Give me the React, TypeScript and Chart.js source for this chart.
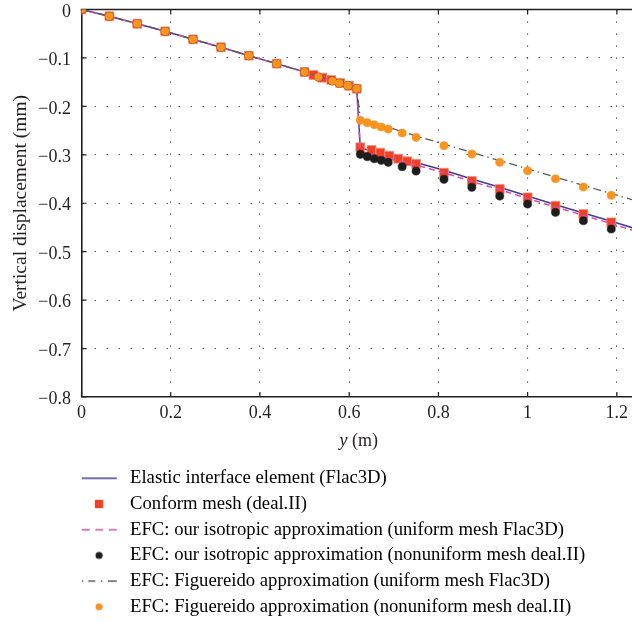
import React, { useEffect, useRef } from 'react';
import { Chart, registerables } from 'chart.js';

Chart.register(...registerables);

// ---------- data ----------
const xTicks = [0, 0.2, 0.4, 0.6, 0.8, 1.0, 1.2];
const xTickLabels = ['0', '0.2', '0.4', '0.6', '0.8', '1', '1.2'];
const yTicks = [0, -0.1, -0.2, -0.3, -0.4, -0.5, -0.6, -0.7, -0.8];
const yTickLabels = ['0', '\u22120.1', '\u22120.2', '\u22120.3', '\u22120.4', '\u22120.5', '\u22120.6', '\u22120.7', '\u22120.8'];

const seriesLabels = [
  'Elastic interface element (Flac3D)',
  'Conform mesh (deal.II)',
  'EFC: our isotropic approximation (uniform mesh Flac3D)',
  'EFC: our isotropic approximation (nonuniform mesh deal.II)',
  'EFC: Figuereido approximation (uniform mesh Flac3D)',
  'EFC: Figuereido approximation (nonuniform mesh deal.II)',
];

// uniform-mesh (Flac3D) line series
const uniformX = [0, 0.0625, 0.125, 0.1875, 0.25, 0.3125, 0.375, 0.4375, 0.5, 0.54, 0.58, 0.617, 0.625, 0.6875, 0.75, 0.8125, 0.875, 0.9375, 1.0, 1.0625, 1.125, 1.1875, 1.25];
const elasticY = [0, -0.0141, -0.0293, -0.0451, -0.0616, -0.0781, -0.0953, -0.1118, -0.129, -0.1408, -0.1518, -0.1635, -0.286, -0.301, -0.316, -0.332, -0.35, -0.367, -0.385, -0.403, -0.42, -0.437, -0.455];
const isoUniformY = [0, -0.0141, -0.0293, -0.0451, -0.0616, -0.0781, -0.0953, -0.1118, -0.129, -0.1408, -0.1518, -0.1635, -0.293, -0.307, -0.321, -0.337, -0.355, -0.372, -0.39, -0.408, -0.425, -0.442, -0.46];
const figUniformY = [0, -0.0141, -0.0293, -0.0451, -0.0616, -0.0781, -0.0953, -0.1118, -0.129, -0.1408, -0.1518, -0.1635, -0.226, -0.243, -0.261, -0.278, -0.295, -0.312, -0.329, -0.346, -0.363, -0.38, -0.397];

// conform mesh (deal.II)
const conformX = [0, 0.0625, 0.125, 0.1875, 0.25, 0.3125, 0.375, 0.4375, 0.5, 0.52, 0.54, 0.56, 0.58, 0.6, 0.617, 0.625, 0.65, 0.67, 0.69, 0.71, 0.73, 0.75, 0.8125, 0.875, 0.9375, 1.0, 1.0625, 1.125, 1.1875];
const conformY = [0, -0.0141, -0.0293, -0.0451, -0.0616, -0.0781, -0.0953, -0.1118, -0.129, -0.1352, -0.1408, -0.1456, -0.1518, -0.1573, -0.1635, -0.2845, -0.2901, -0.2957, -0.3019, -0.3081, -0.3134, -0.3184, -0.337, -0.3541, -0.3707, -0.3878, -0.4051, -0.4223, -0.4394];

// nonuniform mesh (deal.II) point series
const nonuniformX = [0, 0.0625, 0.125, 0.1875, 0.25, 0.3125, 0.375, 0.4375, 0.5, 0.531, 0.5625, 0.578, 0.597, 0.617, 0.625, 0.6406, 0.6563, 0.6719, 0.6875, 0.7188, 0.75, 0.8125, 0.875, 0.9375, 1.0, 1.0625, 1.125, 1.1875];
const isoNonuniformY = [0, -0.0141, -0.0293, -0.0451, -0.0616, -0.0781, -0.0953, -0.1118, -0.129, -0.1394, -0.1476, -0.1524, -0.1573, -0.1635, -0.299, -0.3039, -0.3081, -0.3114, -0.3155, -0.3246, -0.3335, -0.3506, -0.3671, -0.3851, -0.4016, -0.4188, -0.4361, -0.4532];
const figNonuniformY = [0, -0.0141, -0.0293, -0.0451, -0.0616, -0.0781, -0.0953, -0.1118, -0.129, -0.1394, -0.1476, -0.1524, -0.1573, -0.1635, -0.2288, -0.2337, -0.2379, -0.2426, -0.2468, -0.255, -0.2639, -0.2812, -0.2984, -0.3155, -0.3329, -0.3494, -0.3665, -0.3836];

// ---------- styles ----------
const FONT = '"Liberation Serif", "Times New Roman", serif';
const TEXT = '#231f20';
const C_ELASTIC = '#403c98';
const C_CONFORM = '#ee4127';
const C_ISO = '#d94ea5';
const C_BLACK = '#1d1d1b';
const C_FIG = '#5a5a5a';
const C_ORANGE = '#f7931e';

const pts = (xs: number[], ys: number[]) => xs.map((x, i) => ({ x, y: ys[i] }));

function makeSymbol(draw: (c: CanvasRenderingContext2D) => void) {
  const cv = document.createElement('canvas');
  cv.width = 114;
  cv.height = 14;
  const c = cv.getContext('2d')!;
  draw(c);
  return cv;
}

function legendSymbols() {
  const L0 = 74.9;
  const L1 = 109.9;
  const cy = 7;
  const mx = 92.2;
  return [
    makeSymbol((c) => {
      c.strokeStyle = C_ELASTIC; c.lineWidth = 1.5;
      c.beginPath(); c.moveTo(L0, cy); c.lineTo(L1, cy); c.stroke();
    }),
    makeSymbol((c) => {
      c.fillStyle = C_CONFORM;
      c.fillRect(mx - 4.2, cy - 4.2, 8.4, 8.4);
    }),
    makeSymbol((c) => {
      c.strokeStyle = C_ISO; c.lineWidth = 1.5;
      c.beginPath();
      [[L0, L0 + 8], [L0 + 13.5, L0 + 21.5], [L0 + 27, L1]].forEach(([a, b]) => { c.moveTo(a, cy); c.lineTo(b, cy); });
      c.stroke();
    }),
    makeSymbol((c) => {
      c.fillStyle = C_BLACK;
      c.beginPath(); c.arc(mx, cy, 3.6, 0, Math.PI * 2); c.fill();
    }),
    makeSymbol((c) => {
      c.strokeStyle = C_FIG; c.lineWidth = 1.3;
      c.beginPath();
      [[L0, L0 + 1.5], [L0 + 6.5, L0 + 13.5], [L0 + 19, L0 + 20.5], [L0 + 26, L1]].forEach(([a, b]) => { c.moveTo(a, cy); c.lineTo(b, cy); });
      c.stroke();
    }),
    makeSymbol((c) => {
      c.fillStyle = C_ORANGE;
      c.beginPath(); c.arc(mx, cy, 3.6, 0, Math.PI * 2); c.fill();
    }),
  ];
}

const framePlugin = {
  id: 'frameAndTitle',
  beforeDatasetsDraw(chart: any) {
    const { ctx, chartArea, scales } = chart;
    const { left, right, top, bottom } = chartArea;
    ctx.save();
    ctx.strokeStyle = TEXT;
    ctx.lineWidth = 1.6;
    ctx.beginPath();
    ctx.moveTo(left - 0.8, top);
    ctx.lineTo(right, top);
    ctx.stroke();
    ctx.lineWidth = 1.2;
    ctx.beginPath();
    xTicks.forEach((v) => {
      const px = scales.x.getPixelForValue(v);
      ctx.moveTo(px, bottom);
      ctx.lineTo(px, bottom - 5);
      ctx.moveTo(px, top);
      ctx.lineTo(px, top + 5);
    });
    yTicks.forEach((v) => {
      const py = scales.y.getPixelForValue(v);
      ctx.moveTo(left, py);
      ctx.lineTo(left + 5, py);
    });
    ctx.stroke();
    ctx.restore();
  },
  afterDraw(chart: any) {
    const { ctx, chartArea } = chart;
    const { left, right } = chartArea;
    ctx.save();
    ctx.fillStyle = TEXT;
    ctx.textBaseline = 'middle';
    ctx.textAlign = 'left';
    const italic = `italic 18px ${FONT}`;
    const normal = `18px ${FONT}`;
    ctx.font = italic;
    const w1 = ctx.measureText('y').width;
    ctx.font = normal;
    const w2 = ctx.measureText(' (m)').width;
    const cx = (left + right) / 2 + 2;
    const sx = cx - (w1 + w2) / 2;
    ctx.font = italic;
    ctx.fillText('y', sx, 441);
    ctx.font = normal;
    ctx.fillText(' (m)', sx + w1, 441);
    ctx.restore();
  },
};

export default function App() {
  const ref = useRef<HTMLCanvasElement | null>(null);

  useEffect(() => {
    if (!ref.current) return;
    const symbols = legendSymbols();
    const chart = new Chart(ref.current, {
      type: 'scatter',
      data: {
        datasets: [
          {
            label: seriesLabels[0],
            data: pts(uniformX, elasticY),
            showLine: true,
            borderColor: C_ELASTIC,
            borderWidth: 1.5,
            pointRadius: 0,
            order: 6,
          },
          {
            label: seriesLabels[1],
            data: pts(conformX, conformY),
            showLine: false,
            pointStyle: 'rect',
            pointRadius: 6.3,
            backgroundColor: C_CONFORM,
            borderColor: 'rgba(245,150,130,0.75)',
            borderWidth: 1,
            order: 5,
          },
          {
            label: seriesLabels[2],
            data: pts(uniformX, isoUniformY),
            showLine: true,
            borderColor: C_ISO,
            borderWidth: 1.5,
            borderDash: [6, 4],
            pointRadius: 0,
            order: 4,
          },
          {
            label: seriesLabels[3],
            data: pts(nonuniformX, isoNonuniformY),
            showLine: false,
            pointStyle: 'circle',
            pointRadius: 4.1,
            backgroundColor: C_BLACK,
            borderColor: C_BLACK,
            borderWidth: 0.5,
            order: 3,
          },
          {
            label: seriesLabels[4],
            data: pts(uniformX, figUniformY),
            showLine: true,
            borderColor: C_FIG,
            borderWidth: 1.3,
            borderDash: [8, 4, 1.5, 4],
            pointRadius: 0,
            order: 2,
          },
          {
            label: seriesLabels[5],
            data: pts(nonuniformX, figNonuniformY),
            showLine: false,
            pointStyle: 'circle',
            pointRadius: 4.1,
            backgroundColor: C_ORANGE,
            borderColor: C_ORANGE,
            borderWidth: 0.5,
            order: 1,
          },
        ],
      },
      options: {
        animation: false,
        responsive: false,
        devicePixelRatio: 1,
        events: [],
        layout: { autoPadding: false, padding: { left: 0, right: 0, top: 9.5, bottom: 3.85 } },
        plugins: {
          tooltip: { enabled: false },
          legend: {
            display: true,
            position: 'bottom',
            align: 'start',
            labels: {
              usePointStyle: true,
              pointStyleWidth: 113.65,
              padding: 7,
              color: TEXT,
              font: { family: FONT, size: 18.7 },
              generateLabels: (c: any) =>
                c.data.datasets.map((ds: any, i: number) => ({
                  text: ds.label,
                  pointStyle: symbols[i],
                  fillStyle: 'rgba(0,0,0,0)',
                  strokeStyle: 'rgba(0,0,0,0)',
                  lineWidth: 1,
                  hidden: false,
                  datasetIndex: i,
                })),
            },
          },
        },
        scales: {
          x: {
            type: 'linear',
            position: 'bottom',
            min: 0,
            max: 1.234,
            afterBuildTicks: (s: any) => {
              s.ticks = xTicks.map((v) => ({ value: v }));
            },
            afterFit: (s: any) => {
              s.height = 64.95;
              s.paddingLeft = 0;
              s.paddingRight = 0;
            },
            ticks: {
              autoSkip: false,
              maxRotation: 0,
              padding: 5,
              color: TEXT,
              font: { family: FONT, size: 18 },
              callback: (_v: any, i: number) => xTickLabels[i],
            },
            grid: { color: '#3a3a3a', lineWidth: 1.1, drawTicks: false },
            border: { display: true, color: TEXT, width: 1.6, dash: [1.2, 10.8] },
          },
          y: {
            type: 'linear',
            min: -0.8,
            max: 0,
            afterBuildTicks: (s: any) => {
              s.ticks = yTicks.map((v) => ({ value: v }));
            },
            afterFit: (s: any) => {
              s.width = 81.5;
              s.paddingTop = 0;
              s.paddingBottom = 0;
            },
            ticks: {
              autoSkip: false,
              padding: 10.5,
              labelOffset: 2.5,
              color: TEXT,
              font: { family: FONT, size: 18 },
              callback: (_v: any, i: number) => yTickLabels[i],
            },
            title: {
              display: true,
              text: 'Vertical displacement (mm)',
              color: TEXT,
              font: { family: FONT, size: 19.5 },
              padding: { top: 9, bottom: 0 },
            },
            grid: { color: '#3a3a3a', lineWidth: 1.1, drawTicks: false },
            border: { display: true, color: TEXT, width: 1.6, dash: [1.2, 10.8] },
          },
        },
      },
      plugins: [framePlugin],
    } as any);
    return () => chart.destroy();
  }, []);

  return (
    <div style={{ position: 'fixed', left: 0, top: 0, width: 632, height: 623, overflow: 'hidden', background: '#fff' }}>
      <canvas ref={ref} width={632} height={630} style={{ display: 'block', width: 632, height: 630 }} />
    </div>
  );
}
